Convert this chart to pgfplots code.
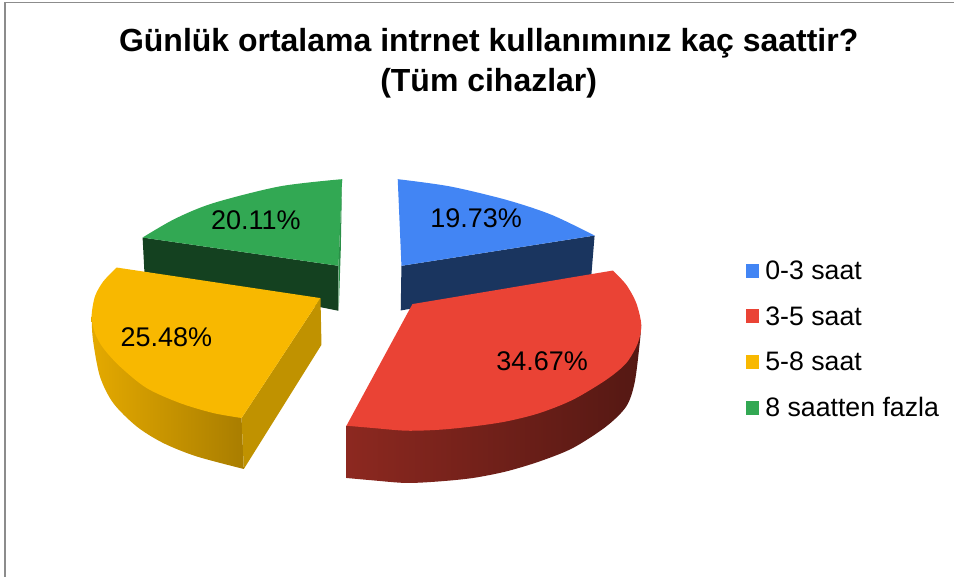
\documentclass[border=0pt]{standalone}
\usepackage{pgfplots}
\pgfplotsset{compat=1.18}
\usepackage{fontspec}
\setmainfont{Liberation Sans}
\definecolor{cBlue}{HTML}{4285F4}
\definecolor{cRed}{HTML}{EA4335}
\definecolor{cYel}{HTML}{F8B800}
\definecolor{cGreen}{HTML}{32A853}
\definecolor{dBlue}{HTML}{1A355F}
\definecolor{dGreen}{HTML}{144120}
\definecolor{dYel}{HTML}{C09200}
\begin{document}
\begin{tikzpicture}
\begin{axis}[
  hide axis, scale only axis, width=955pt, height=577pt,
  xmin=0, xmax=955, ymin=0, ymax=577, y dir=reverse, clip=false,
  legend image code/.code={\fill[draw=none,#1] (0pt,-5pt) rectangle (14pt,9pt); \path (19.7pt,0pt);},
  legend cell align=left,
  legend style={at={(axis cs:746,261)}, anchor=north west, draw=none, fill=none,
    inner sep=0pt, outer sep=0pt, font=\fontsize{26.7}{28}\selectfont,
    row sep=21.6pt, nodes={inner sep=0pt, text height=19pt, text depth=5pt},
    legend columns=1},
]
\path (axis cs:0,0) rectangle (axis cs:955,577);
% frame
\addplot[draw=black!45, line width=1.3pt, forget plot, no marks] coordinates {(5,577) (5,2.5) (955,2.5)};
% green slice
\addplot[fill=dGreen, draw=none, forget plot] coordinates {(142.7,237.7) (338.7,266) (338.7,311) (144.5,272)} -- cycle;
\addplot[fill=cGreen, draw=none, forget plot, smooth] coordinates {(342.3,179.3) (280,186.5) (213.3,203.3) (175,219) (142.7,237.7)} -- (axis cs:338.7,266) -- cycle;
\addplot[fill=cGreen!85!black, draw=none, forget plot] coordinates {(342.3,179.3) (338.7,266) (339,310) (341,250)} -- cycle;
% blue slice
\addplot[fill=dBlue, draw=none, forget plot] coordinates {(595,235.7) (401.7,266) (401,310.7) (591.7,276)} -- cycle;
\addplot[fill=cBlue, draw=none, forget plot, smooth] coordinates {(398,179.3) (450,186.5) (506.7,200) (552,215) (595,235.7)} -- (axis cs:401.7,266) -- cycle;
% yellow slice
\addplot[left color=cYel!92!black, right color=cYel!68!black, draw=none, forget plot, smooth] coordinates {(91.7,316.7) (93,340) (100,376.7) (113.3,403.3) (136.7,426.7) (163.3,443.3) (196.7,456.7) (244,469.3)} -- (axis cs:241.7,418.3) -- cycle;
\addplot[fill=dYel, draw=none, forget plot] coordinates {(320.7,298.3) (321.7,345) (244,469.3) (241.7,418.3)} -- cycle;
\addplot[fill=cYel, draw=none, forget plot, smooth] coordinates {(241.7,418.3) (213.3,413.3) (180,403.3) (146.7,388.3) (120,366.7) (103.3,348.3) (95,333.3) (91.7,316.7) (95,296.7) (103.3,281.7) (116.7,267.7)} -- (axis cs:320.7,298.3) -- cycle;
% red slice
\addplot[left color=cRed!60!black, middle color=cRed!36!black, right color=cRed!36!black, draw=none, forget plot, smooth] coordinates {(346.7,478.3) (373.3,480.7) (406.7,483.3) (440,481.7) (473.3,478.3) (506.7,471.7) (540,461.7) (573.3,448.3) (606.7,426.7) (626.7,406.7) (635,383.3) (640,345) (641.7,325)} -- (axis cs:346.7,426) -- cycle;
\addplot[fill=cRed, draw=none, forget plot, smooth] coordinates {(613.3,270.7) (626.7,285) (636.7,303.3) (641.7,325) (638.3,343.3) (626.7,363.3) (606.7,380) (573.3,400) (540,413.3) (506.7,421.7) (473.3,426.7) (440,430) (406.7,431) (373.3,428.3) (346.7,426)} -- (axis cs:412.7,304.3) -- cycle;
% legend
\addlegendimage{fill=cBlue}\addlegendentry{0-3 saat}
\addlegendimage{fill=cRed}\addlegendentry{3-5 saat}
\addlegendimage{fill=cYel}\addlegendentry{5-8 saat}
\addlegendimage{fill=cGreen}\addlegendentry{8 saatten fazla}
% labels
\node[font=\fontsize{27}{28}\selectfont] at (axis cs:256,220) {20.11\%};
\node[font=\fontsize{27}{28}\selectfont] at (axis cs:476.5,218) {19.73\%};
\node[font=\fontsize{27}{28}\selectfont] at (axis cs:166.5,337) {25.48\%};
\node[font=\fontsize{27}{28}\selectfont] at (axis cs:542.5,361) {34.67\%};
% title
\node[font=\fontsize{32}{40}\selectfont\bfseries, anchor=base] at (axis cs:489,52) {Günlük ortalama intrnet kullanımınız kaç saattir?};
\node[font=\fontsize{32}{40}\selectfont\bfseries, anchor=base] at (axis cs:489,92) {(Tüm cihazlar)};
\end{axis}
\end{tikzpicture}
\end{document}
